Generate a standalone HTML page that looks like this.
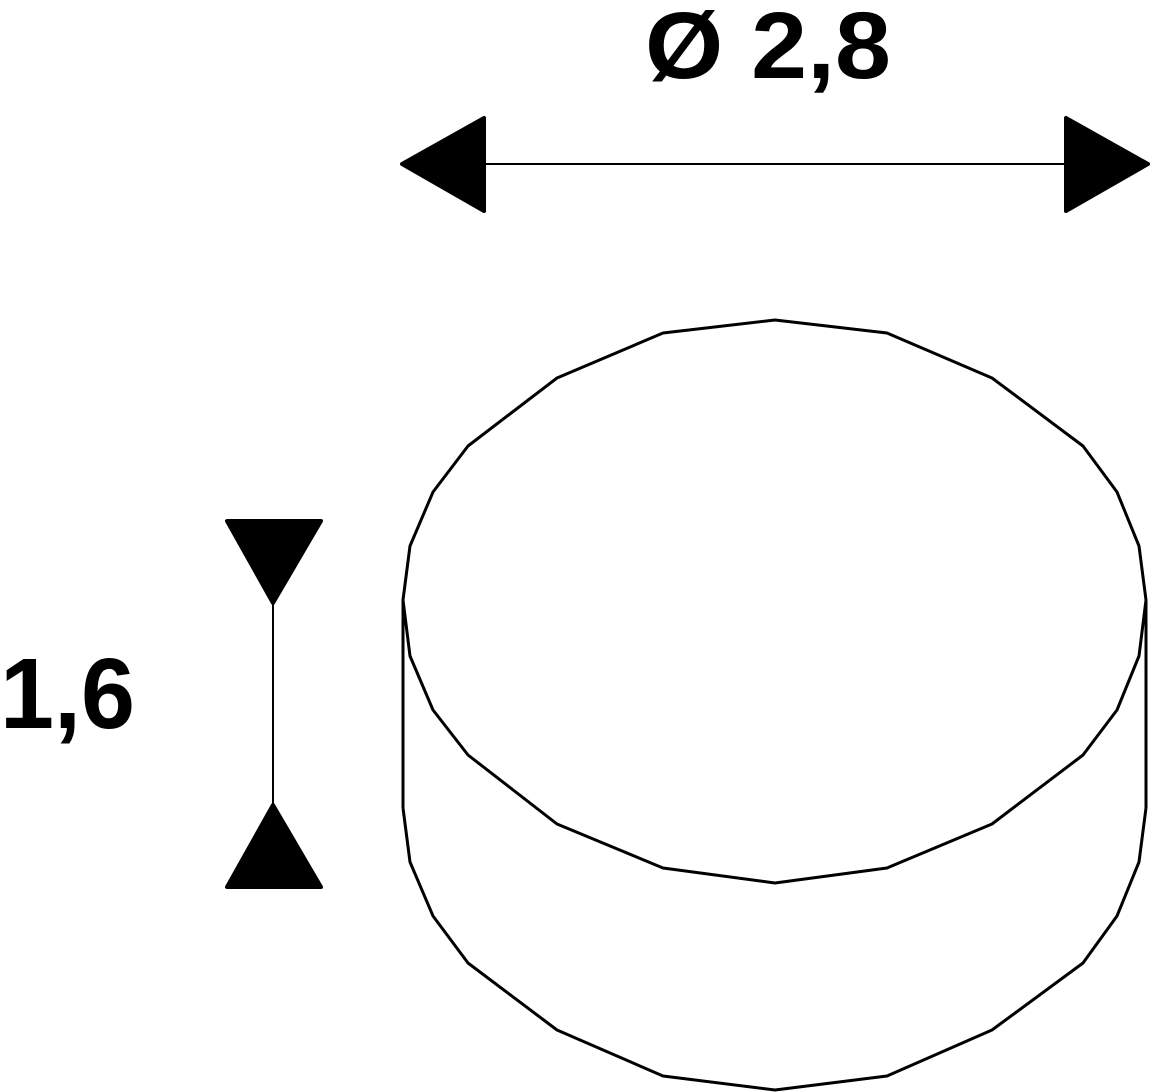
<!DOCTYPE html>
<html><head><meta charset="utf-8"><style>html,body{margin:0;padding:0;background:#fff}svg{display:block}</style></head>
<body>
<svg width="1150" height="1092" viewBox="0 0 1150 1092" xmlns="http://www.w3.org/2000/svg">
<g fill="none" stroke="#000" stroke-width="3" stroke-linejoin="round">
<polygon points="775,320 887,333 992,378 1083,446 1117,492 1139,546 1146,600 1139,656 1117,710 1083,755 992,824 887,868 775,883 663,868 557,824 468,755 433,710 410,656 403,600 410,546 433,492 468,446 557,378 663,333"/>
<line x1="403" y1="600" x2="403" y2="808"/>
<line x1="1146" y1="600" x2="1146" y2="808"/>
<polyline points="403,808 410,862 433,916 468,963 557,1030 663,1076 775,1090 887,1076 992,1030 1083,963 1117,916 1139,862 1146,808"/>
</g>
<g stroke="#000" stroke-width="2">
<line x1="484" y1="164" x2="1066" y2="164"/>
<line x1="273" y1="604" x2="273" y2="804"/>
</g>
<g fill="#000" stroke="#000" stroke-width="4" stroke-linejoin="round">
<polygon points="402,164 484,118 484,211"/>
<polygon points="1148,164 1066,118 1066,211"/>
<polygon points="227,521 321,521 273,603"/>
<polygon points="273,805 227,887 321,887"/>
</g>
<g font-family="Liberation Sans, Arial, sans-serif" font-weight="bold" fill="#000">
<text x="645" y="78" font-size="95" textLength="246" lengthAdjust="spacingAndGlyphs">Ø 2,8</text>
<text x="0" y="728" font-size="100" textLength="135" lengthAdjust="spacingAndGlyphs">1,6</text>
</g>
</svg>
</body></html>
